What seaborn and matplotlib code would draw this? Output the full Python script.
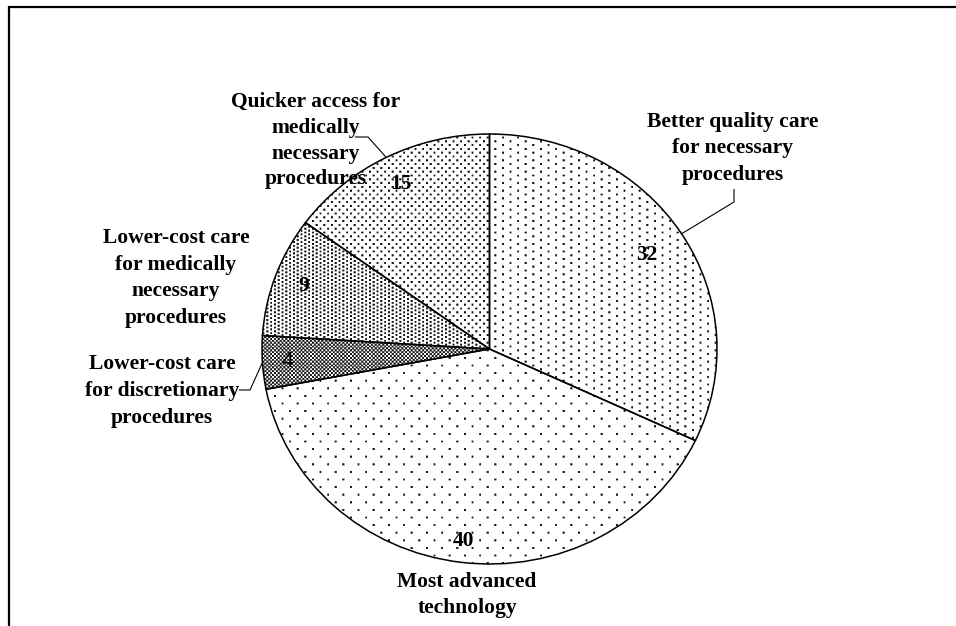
import numpy as np
import matplotlib
matplotlib.use("Agg")
import matplotlib.pyplot as plt
import seaborn as sns

# ---- data -------------------------------------------------------------
categories = [
    "Better quality care\nfor necessary\nprocedures",
    "Most advanced\ntechnology",
    "Lower-cost care\nfor discretionary\nprocedures",
    "Lower-cost care\nfor medically\nnecessary\nprocedures",
    "Quicker access for\nmedically\nnecessary\nprocedures",
]
values = [32, 40, 4, 9, 15]
fill_patterns = ["pct10", "pct5", "pct50", "pct25", "pct20"]

# ---- style ------------------------------------------------------------
sns.set_theme(style="white")
plt.rcParams["font.family"] = ["Liberation Serif", "DejaVu Serif"]

# 8x8 bit tiles for the dotted fills
TILES = {
    "pct5": [0x80, 0, 0, 0, 0x08, 0, 0, 0],
    "pct10": [0x80, 0, 0x08, 0, 0x80, 0, 0x08, 0],
    "pct20": [0x88, 0, 0x22, 0, 0x88, 0, 0x22, 0],
    "pct25": [0x88, 0x22] * 4,
    "pct50": [0xAA, 0x55] * 4,
}


def tile_array(rows):
    return np.array([[(b >> (7 - i)) & 1 for i in range(8)] for b in rows], float)


def texture(rows, x0, y0, w, h, scale=1.9, ss=3, shade=0.1):
    tile = tile_array(rows)
    xs = x0 + (np.arange(w * ss) + 0.5) / ss
    ys = y0 + (np.arange(h * ss) + 0.5) / ss
    ix = np.floor(xs / scale).astype(int) % 8
    iy = np.floor(ys / scale).astype(int) % 8
    hit = tile[np.ix_(iy, ix)]
    cov = hit.reshape(h, ss, w, ss).mean(axis=(1, 3))
    rgba = np.zeros((h, w, 4))
    rgba[..., :3] = shade
    rgba[..., 3] = np.clip(cov * 1.25, 0, 1)
    return rgba


W, H = 956, 626
fig = plt.figure(figsize=(W / 100, H / 100), dpi=100)
fig.patch.set_facecolor("white")

# pie geometry (figure pixels, y measured from the top)
cx, cy, rx, ry, L = 489.5, 349.0, 227.5, 215.0, 1.05
left_px, top_px = cx - L * rx, cy - L * ry
w_px, h_px = 2 * L * rx, 2 * L * ry
ax = fig.add_axes([left_px / W, 1 - (top_px + h_px) / H, w_px / W, h_px / H])

total = sum(values)
wedges, _, autotexts = ax.pie(
    values,
    startangle=90,
    counterclock=False,
    radius=1.0,
    autopct=lambda p: f"{p * total / 100:.0f}",
    pctdistance=0.87,
    wedgeprops=dict(facecolor="none", edgecolor="black", linewidth=1.1, zorder=3),
    textprops=dict(fontsize=15.5, fontweight="bold", color="black", zorder=4),
)
ax.set_aspect("auto")
ax.axis("off")

iw, ih = int(round(w_px)), int(round(h_px))
for wdg, pname in zip(wedges, fill_patterns):
    img = texture(TILES[pname], left_px, top_px, iw, ih)
    im = ax.imshow(img, extent=(-L, L, -L, L), origin="upper",
                   interpolation="nearest", aspect="auto", zorder=1)
    im.set_clip_path(wdg)
ax.set_xlim(-L, L)
ax.set_ylim(-L, L)

# value labels sit at slightly different radial distances along each slice's bisector
label_radius = [0.82, 0.90, 0.89, 0.87, 0.86]
for wdg, txt, r in zip(wedges, autotexts, label_radius):
    mid = np.deg2rad((wdg.theta1 + wdg.theta2) / 2)
    txt.set_position((r * np.cos(mid), r * np.sin(mid)))

# the small slice carries a lighter label
autotexts[2].set_fontweight("normal")
autotexts[2].set_fontfamily(["Liberation Sans", "DejaVu Sans"])
autotexts[2].set_fontsize(15.5)
autotexts[2].set_color("black")

# ---- overlay for category labels, leader lines and frame -------------
ov = fig.add_axes([0, 0, 1, 1])
ov.set_xlim(0, W)
ov.set_ylim(H, 0)
ov.axis("off")


def edge_point(w):
    mid = np.deg2rad((w.theta1 + w.theta2) / 2)
    return cx + rx * np.cos(mid), cy - ry * np.sin(mid)


# (centre x, baseline of first line, line step) for each category label
label_layout = [(733, 127, 26.5), (467, 587, 25.5), (162, 369, 27.0),
                (176, 243, 26.7), (316, 107, 25.8)]
for text, (lx, y0, step) in zip(categories, label_layout):
    for k, line in enumerate(text.split("\n")):
        ov.text(lx, y0 + k * step, line, ha="center", va="baseline",
                fontsize=15.5, fontweight="bold", color="black")

leaders = {0: [(734, 189), (734, 202)], 4: [(355, 137), (368, 137)],
           2: [(239, 390), (250, 390)]}
for idx, pts in leaders.items():
    ex, ey = edge_point(wedges[idx])
    xs = [p[0] for p in pts] + [ex]
    ys = [p[1] for p in pts] + [ey]
    ov.plot(xs, ys, color="black", lw=0.8, solid_capstyle="butt")

ov.plot([9, 9, W + 5], [H + 5, 6.7, 6.7], color="black", lw=1.6,
        solid_joinstyle="miter")

fig.savefig("out.png", dpi=100, facecolor="white")
